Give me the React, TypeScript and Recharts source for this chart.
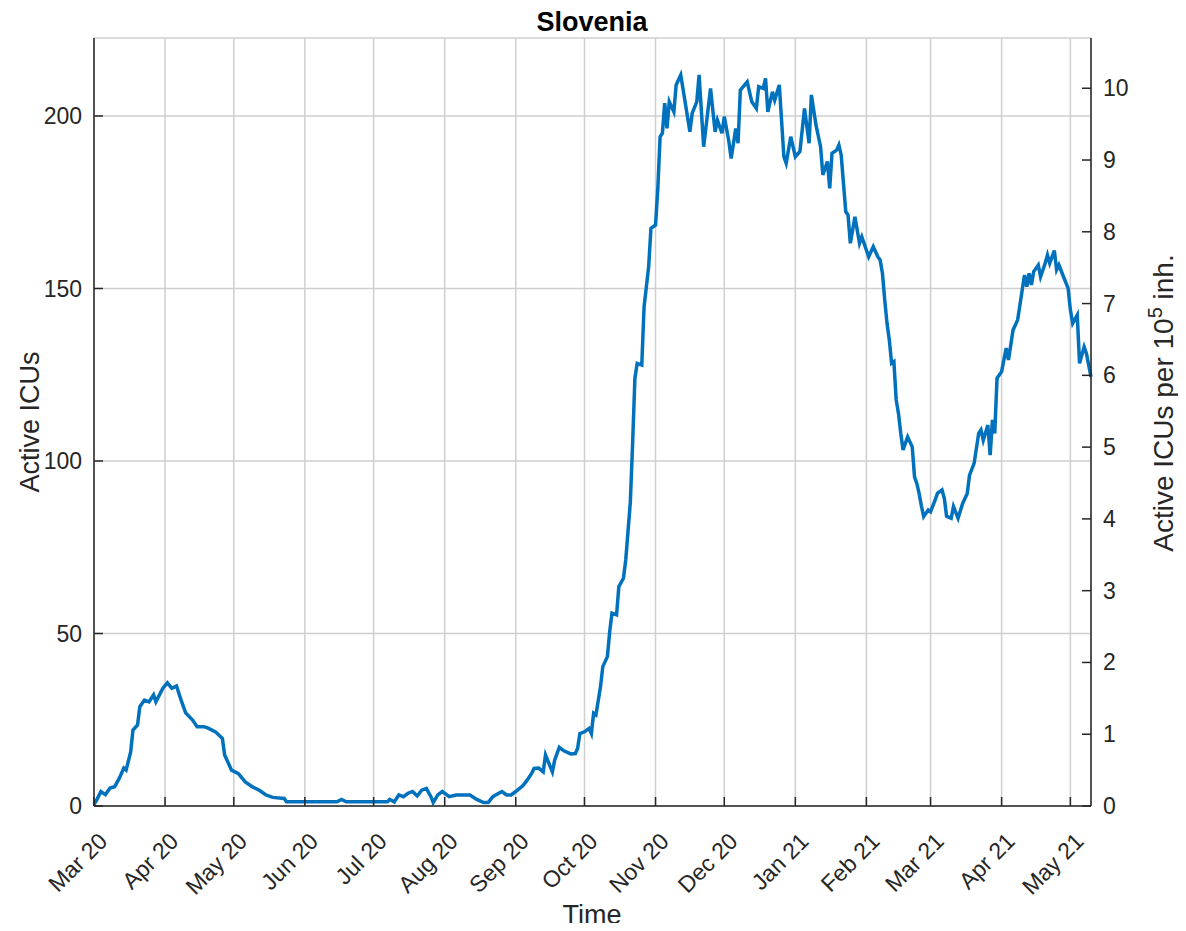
import React from "react";
import { LineChart, Line, XAxis, YAxis, CartesianGrid } from "recharts";

// days counted from 1 Mar 2020
const monthTicks = [0, 31, 61, 92, 122, 153, 184, 214, 245, 275, 306, 337, 365, 396, 426];
const monthLabels = [
  "Mar 20", "Apr 20", "May 20", "Jun 20", "Jul 20", "Aug 20", "Sep 20", "Oct 20",
  "Nov 20", "Dec 20", "Jan 21", "Feb 21", "Mar 21", "Apr 21", "May 21",
];
const leftTicks = [0, 50, 100, 150, 200];
const rightTicks = [0, 1, 2, 3, 4, 5, 6, 7, 8, 9, 10];

const days = [
  0, 1, 3, 5, 7, 9, 11, 13, 14, 16, 17, 19, 20, 22, 24, 26, 27, 30, 32, 34, 36, 38, 40, 43, 45, 48,
  50, 53, 56, 57, 60, 63, 66, 69, 72, 75, 78, 83, 84, 106, 108, 110, 128, 129, 131, 133, 135, 137,
  139, 141, 143, 145, 147, 148, 150, 152, 155, 158, 164, 167, 170, 172, 174, 176, 178, 180, 182,
  184, 187, 189, 191, 192, 194, 196, 197, 200, 201, 203, 205, 208, 210, 211, 212, 214, 216, 217,
  218, 219, 221, 222, 224, 225, 226, 228, 229, 231, 232, 234, 235, 236, 237, 239, 240, 242, 243,
  245, 246, 247, 248, 249, 250, 251, 253, 254, 256, 258, 260, 261, 263, 264, 266, 269, 271, 272,
  274, 275, 277, 278, 280, 281, 282, 285, 287, 289, 290, 292, 293, 294, 296, 297, 299, 301, 302,
  304, 306, 308, 310, 312, 313, 315, 317, 318, 320, 321, 322, 324, 325, 326, 328, 329, 330, 332,
  334, 335, 338, 340, 342, 343, 344, 345, 346, 347, 348, 349, 350, 351, 352, 353, 355, 357, 358,
  359, 360, 361, 362, 364, 365, 367, 368, 370, 371, 372, 374, 375, 377, 379, 381, 382, 384, 386,
  387, 388, 390, 391, 392, 393, 394, 396, 398, 399, 401, 402, 403, 405, 406, 407, 408, 409, 410,
  412, 413, 415, 416, 417, 419, 420, 421, 423, 425, 426, 427, 429, 430, 432, 433, 435,
];
const icu = [
  0.5, 1.5, 4.2, 3.3, 5.2, 5.6, 8, 11, 10.4, 15.7, 22, 23.5, 28.8, 30.7, 30.2, 32.2, 30.2, 34.1,
  35.7, 34.1, 34.8, 30.7, 27, 24.9, 23, 23, 22.5, 21.5, 19.6, 14.8, 10.4, 9.4, 7, 5.6, 4.6, 3.2,
  2.5, 2.2, 1.2, 1.2, 1.9, 1.2, 1.2, 1.9, 1.2, 3.2, 2.7, 3.7, 4.2, 2.9, 4.6, 5.1, 2.7, 1, 3.2, 4.2,
  2.7, 3.2, 3.2, 1.9, 1, 1, 2.7, 3.5, 4.2, 3.2, 3.2, 4.2, 5.8, 7.5, 9.5, 10.9, 11, 9.9, 14.8, 9.9,
  13.3, 17, 16, 15.1, 15.2, 16.7, 21, 21.5, 22.5, 21, 26.9, 26.4, 34.6, 40.4, 43.3, 50.5, 55.9,
  55.4, 63.6, 66, 71.3, 88, 105, 124, 128.3, 127.8, 144.7, 156.3, 167.4, 168.4, 179, 194, 195,
  203.7, 196.4, 204.1, 201.2, 209, 211.9, 203.7, 195.4, 200.8, 204.1, 211.9, 191.1, 208, 195.4,
  198.8, 195, 199.8, 192.6, 187.7, 196.4, 192.1, 207.5, 209.9, 204.1, 202.2, 208.5, 208, 210.9,
  201.2, 207, 204.6, 209, 188.2, 186.3, 194, 188.2, 189.7, 202.2, 192.1, 206.1, 197.4, 191.1,
  182.9, 186.8, 179, 189.2, 190.1, 191.6, 188.7, 172.3, 171.3, 163.1, 170.8, 163.1, 165, 159.2,
  162.1, 159.2, 158.3, 154.4, 146.7, 139.9, 135.1, 128.3, 128.8, 117.7, 113.8, 108, 103.2, 107,
  104.1, 95.4, 93.5, 90.6, 87, 83.9, 85.8, 85.3, 88.7, 90.6, 91.6, 89.2, 84, 83.4, 86.8, 83.4, 87.7,
  90.6, 95.9, 99.3, 108, 109, 106, 110.4, 101.7, 111.9, 108, 124, 125.9, 132.7, 129.3, 138, 139.4,
  140.9, 149.6, 153.9, 150.5, 154.4, 151, 154.9, 156.8, 153.4, 157.3, 159.7, 157.3, 161, 155.4,
  156.8, 153.4, 150.1, 143.8, 139.9, 142.3, 128.3, 133.1, 131.2, 124.4,
];

const data = days.map((d, i) => ({ day: d, icu: icu[i] }));

const ink = "#262626";
const font = "'Liberation Sans', Arial, Helvetica, sans-serif";
const TICK = 9;
const tickFont = 23;
const labelFont = 27;

const BottomTick = (props: any) => {
  const { x, y, payload } = props;
  const i = monthTicks.indexOf(payload.value);
  const lx = x + 9;
  const ly = y + 31;
  return (
    <g>
      <line x1={x} y1={y} x2={x} y2={y - TICK} stroke={ink} strokeWidth={1.5} />
      <text
        x={lx}
        y={ly}
        transform={`rotate(-45, ${lx}, ${ly})`}
        textAnchor="end"
        dy="0.35em"
        fontSize={tickFont}
        fontFamily={font}
        fill={ink}
      >
        {monthLabels[i]}
      </text>
    </g>
  );
};

const TopTick = (props: any) => {
  const { x, y } = props;
  return <line x1={x} y1={y} x2={x} y2={y + TICK} stroke={ink} strokeWidth={1.5} />;
};

const LeftTick = (props: any) => {
  const { x, y, payload } = props;
  return (
    <g>
      <line x1={x} y1={y} x2={x + TICK} y2={y} stroke={ink} strokeWidth={1.5} />
      <text x={x - 12} y={y} dy="0.35em" textAnchor="end" fontSize={tickFont} fontFamily={font} fill={ink}>
        {payload.value}
      </text>
    </g>
  );
};

const RightTick = (props: any) => {
  const { x, y, payload } = props;
  return (
    <g>
      <line x1={x} y1={y} x2={x - TICK} y2={y} stroke={ink} strokeWidth={1.5} />
      <text x={x + 12} y={y} dy="0.35em" textAnchor="start" fontSize={tickFont} fontFamily={font} fill={ink}>
        {payload.value}
      </text>
    </g>
  );
};

export default function App() {
  return (
    <div style={{ position: "relative", width: 1170, height: 915 }}>
      <LineChart width={1170} height={915} data={data} margin={{ top: 30, right: 0, bottom: 0, left: 0 }}>
        <CartesianGrid stroke="#cfcfcf" strokeWidth={1.5} />
        <XAxis
          dataKey="day"
          type="number"
          domain={[0, 435]}
          ticks={monthTicks}
          interval={0}
          height={117}
          tickSize={0}
          tickMargin={0}
          tickLine={false}
          tick={<BottomTick />}
          stroke={ink}
          strokeWidth={1.5}
        />
        <XAxis
          xAxisId="top"
          orientation="top"
          dataKey="day"
          type="number"
          domain={[0, 435]}
          ticks={monthTicks}
          interval={0}
          height={0}
          tickSize={0}
          tickMargin={0}
          tickLine={false}
          tick={<TopTick />}
          stroke={ink}
          strokeWidth={1.5}
        />
        <YAxis
          type="number"
          domain={[0, 222.6]}
          ticks={leftTicks}
          interval={0}
          width={86}
          tickSize={0}
          tickMargin={0}
          tickLine={false}
          tick={<LeftTick />}
          stroke={ink}
          strokeWidth={1.5}
          allowDataOverflow
        />
        <YAxis
          yAxisId="right"
          orientation="right"
          type="number"
          domain={[0, 10.7]}
          ticks={rightTicks}
          interval={0}
          width={87}
          tickSize={0}
          tickMargin={0}
          tickLine={false}
          tick={<RightTick />}
          stroke={ink}
          strokeWidth={1.5}
          allowDataOverflow
        />
        <Line
          type="linear"
          dataKey="icu"
          stroke="#0072BD"
          strokeWidth={3.5}
          dot={false}
          isAnimationActive={false}
        />
      </LineChart>
      <svg
        width={1170}
        height={915}
        overflow="visible"
        style={{ position: "absolute", left: 0, top: 0, pointerEvents: "none" }}
      >
        <text x={584} y={23} textAnchor="middle" fontSize={labelFont} fontWeight="bold" fontFamily={font} fill="#000">
          Slovenia
        </text>
        <text x={584} y={916} textAnchor="middle" fontSize={labelFont} fontFamily={font} fill={ink}>
          Time
        </text>
        <text
          x={31}
          y={414}
          transform="rotate(-90, 31, 414)"
          textAnchor="middle"
          fontSize={labelFont}
          fontFamily={font}
          fill={ink}
        >
          Active ICUs
        </text>
        <text
          x={1165}
          y={395}
          transform="rotate(-90, 1165, 395)"
          textAnchor="middle"
          fontSize={28}
          fontFamily={font}
          fill={ink}
        >
          Active ICUs per 10
          <tspan dy={-11} fontSize={20}>5</tspan>
          <tspan dy={11}> inh.</tspan>
        </text>
      </svg>
    </div>
  );
}
